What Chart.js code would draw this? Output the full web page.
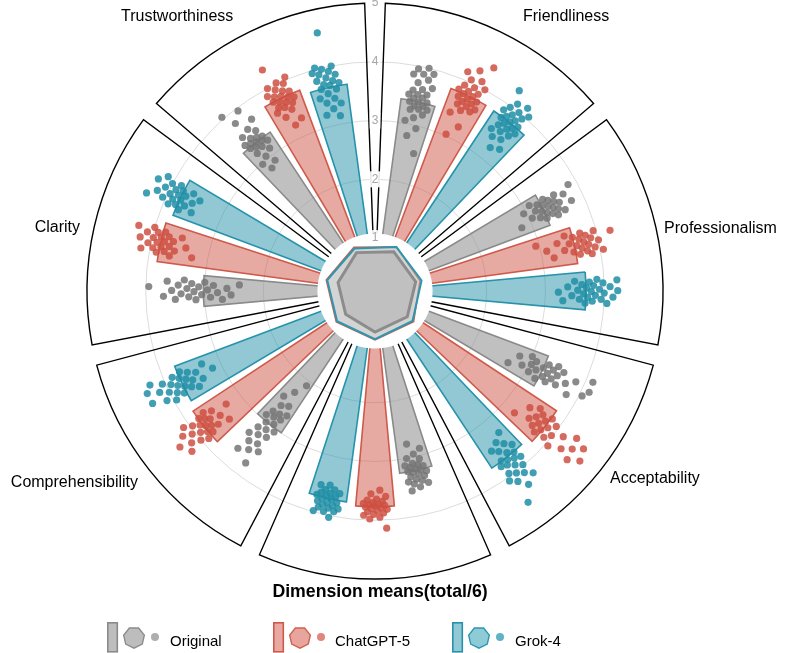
<!DOCTYPE html>
<html>
<head>
<meta charset="utf-8">
<script src="https://cdn.jsdelivr.net/npm/chart.js@4.4.1/dist/chart.umd.min.js"></script>
<style>
  html, body { margin:0; padding:0; background:#fff; width:787px; height:653px; overflow:hidden; position:relative; font-family:"Liberation Sans", Arial, sans-serif; }
  #wrap { position:absolute; left:0; top:-5px; width:787px; height:660px; }
  .lab { position:absolute; font-size:16px; line-height:16px; color:#000; white-space:nowrap; }
  .bold { font-weight:bold; font-size:17.7px; line-height:17.7px; }
  .leg { position:absolute; font-size:15px; line-height:15px; color:#000; white-space:nowrap; }
  #legsvg { position:absolute; left:0; top:600px; }
</style>
</head>
<body>
<div id="wrap"><canvas id="c"></canvas></div>

<div class="lab" style="left:121px;top:7.7px;">Trustworthiness</div>
<div class="lab" style="left:523px;top:7.7px;">Friendliness</div>
<div class="lab" style="left:664px;top:219.7px;">Professionalism</div>
<div class="lab" style="right:707px;top:218.7px;">Clarity</div>
<div class="lab" style="left:610px;top:469.7px;">Acceptability</div>
<div class="lab" style="right:649px;top:473.7px;">Comprehensibility</div>
<div class="lab bold" style="left:272px;top:583.3px;width:216px;text-align:center;">Dimension means(total/6)</div>

<svg id="legsvg" width="787" height="53"></svg>
<div class="leg" style="left:170px;top:632.5px;">Original</div>
<div class="leg" style="left:335px;top:632.5px;">ChatGPT-5</div>
<div class="leg" style="left:515px;top:632.5px;">Grok-4</div>

<script>
// ---------------- DATA ----------------
const dimensions = ['Friendliness', 'Professionalism', 'Acceptability', 'Dimension means(total/6)', 'Comprehensibility', 'Clarity', 'Trustworthiness'];
const seriesNames = ['Original', 'ChatGPT-5', 'Grok-4'];
const tickValues = [1, 2, 3, 4, 5];

// bar heights (mean score per dimension)
const originalMeans = [3.40, 3.28, 3.25, 3.23, 2.99, 3.02, 3.34];
const chatgptMeans  = [3.78, 3.58, 3.80, 3.77, 3.81, 3.84, 3.75];
const grokMeans     = [3.77, 3.69, 3.71, 3.72, 3.74, 3.77, 3.65];

// individual scores (points), one list per dimension
const originalScores = [
  [4.00,3.95,3.92,3.88,3.85,3.80,3.72,3.68,3.62,3.58,3.55,3.52,3.50,3.48,3.45,3.42,3.40,3.38,3.35,3.32,3.30,3.28,3.25,3.20,3.12,3.05,2.95,2.80,2.53],
  [3.85,3.78,3.70,3.62,3.58,3.55,3.52,3.50,3.48,3.45,3.42,3.40,3.38,3.35,3.32,3.30,3.28,3.25,3.22,3.18,3.15,3.10,3.05,2.95,2.82],
  [4.13,4.12,4.05,3.85,3.80,3.70,3.60,3.56,3.52,3.48,3.45,3.42,3.38,3.35,3.32,3.30,3.25,3.20,3.15,3.10,3.05,3.04,3.00,2.90,2.80,2.67],
  [3.56,3.52,3.48,3.45,3.42,3.40,3.38,3.35,3.32,3.30,3.28,3.26,3.24,3.22,3.20,3.18,3.16,3.14,3.12,3.10,3.05,3.00,2.95,2.88,2.76],
  [3.76,3.65,3.55,3.48,3.43,3.38,3.32,3.25,3.20,3.15,3.10,3.05,3.00,2.95,2.90,2.85,2.82,2.78,2.75,2.70,2.62,2.55,2.47,2.30,2.09],
  [3.95,3.70,3.64,3.56,3.50,3.45,3.40,3.35,3.30,3.27,3.22,3.18,3.15,3.10,3.05,3.00,2.95,2.90,2.85,2.78,2.70,2.62,2.55,2.41],
  [4.04,3.95,3.81,3.70,3.60,3.55,3.50,3.45,3.42,3.40,3.38,3.36,3.34,3.32,3.30,3.28,3.25,3.22,3.18,3.12,3.05,2.98,2.90,2.83]
];
const chatgptScores = [
  [4.40,4.25,4.15,4.10,4.05,4.00,3.95,3.92,3.88,3.85,3.82,3.80,3.78,3.75,3.72,3.70,3.68,3.65,3.62,3.60,3.58,3.55,3.50,3.40,3.23,3.03],
  [4.23,4.05,4.00,3.95,3.92,3.88,3.85,3.82,3.80,3.78,3.75,3.72,3.70,3.68,3.65,3.62,3.58,3.55,3.50,3.45,3.40,3.30,3.20,3.10,2.94],
  [4.63,4.55,4.45,4.40,4.35,4.25,4.15,4.05,3.98,3.95,3.90,3.85,3.82,3.78,3.75,3.72,3.68,3.65,3.62,3.58,3.55,3.50,3.40,3.25],
  [4.14,3.98,3.95,3.92,3.90,3.88,3.86,3.84,3.82,3.80,3.79,3.78,3.76,3.75,3.74,3.73,3.72,3.70,3.68,3.66,3.64,3.60,3.55,3.49],
  [4.35,4.24,4.20,4.15,4.10,4.05,4.00,3.96,3.92,3.88,3.85,3.82,3.80,3.78,3.75,3.72,3.70,3.68,3.65,3.60,3.55,3.48,3.40,3.28],
  [4.27,4.20,4.15,4.10,4.05,4.00,3.98,3.95,3.92,3.90,3.88,3.85,3.82,3.80,3.78,3.75,3.72,3.68,3.65,3.63,3.58,3.50,3.40,3.27],
  [4.32,4.05,4.02,4.00,3.96,3.92,3.88,3.85,3.82,3.80,3.78,3.75,3.72,3.70,3.68,3.65,3.62,3.60,3.58,3.55,3.50,3.42,3.30,3.23]
];
const grokScores = [
  [4.30,4.15,4.10,4.05,4.00,3.98,3.95,3.90,3.88,3.85,3.82,3.80,3.78,3.75,3.72,3.70,3.68,3.65,3.62,3.58,3.55,3.50,3.45,3.40,3.31,3.23],
  [4.23,4.22,4.15,4.10,4.05,4.00,3.98,3.95,3.92,3.88,3.85,3.82,3.80,3.78,3.75,3.72,3.70,3.68,3.65,3.62,3.58,3.55,3.50,3.45,3.38,3.30,3.22],
  [4.54,4.30,4.20,4.15,4.10,4.06,4.02,3.98,3.95,3.90,3.85,3.82,3.80,3.78,3.75,3.72,3.70,3.65,3.60,3.55,3.50,3.47,3.40,3.30],
  [4.03,3.98,3.95,3.92,3.90,3.88,3.86,3.84,3.82,3.80,3.78,3.76,3.74,3.72,3.70,3.68,3.66,3.64,3.62,3.60,3.58,3.55,3.52,3.49],
  [4.35,4.34,4.25,4.15,4.10,4.05,4.00,3.95,3.92,3.88,3.85,3.82,3.78,3.75,3.72,3.70,3.65,3.62,3.58,3.55,3.50,3.45,3.38,3.30,3.16],
  [4.33,4.25,4.18,4.12,4.08,4.05,4.00,3.96,3.92,3.90,3.88,3.85,3.82,3.80,3.78,3.75,3.72,3.70,3.65,3.60,3.55,3.50,3.45],
  [4.60,4.03,4.00,3.98,3.95,3.92,3.90,3.85,3.82,3.80,3.75,3.72,3.70,3.68,3.65,3.60,3.55,3.50,3.45,3.40,3.35,3.28,3.20,3.14]
];

// ---------------- STYLE / LAYOUT ----------------
const barFill   = ['rgba(150,150,150,0.6)', 'rgba(208,86,72,0.5)', 'rgba(37,146,170,0.5)'];
const barStroke = ['#8a8a8a', '#cf5a4b', '#2693ab'];
const dotFill   = ['rgba(118,118,118,0.85)', 'rgba(206,80,66,0.85)', 'rgba(32,142,166,0.85)'];
const heptStroke = ['#8c8c8c', '#d0604f', '#2a98b0'];

const SECTOR = 360 / dimensions.length;       // degrees per dimension
const BAR_W = 0.2, GAP = 0.05;                 // in sector units
const MARGIN = (1 - 3 * BAR_W - 2 * GAP) / 2;
const slotAngles = [MARGIN, BAR_W, GAP, BAR_W, GAP, BAR_W, MARGIN].map(u => u * SECTOR);
const slotSeries = [-1, 0, -1, 1, -1, 2, -1];
const allMeans = [originalMeans, chatgptMeans, grokMeans];
const allScores = [originalScores, chatgptScores, grokScores];

const labels = [], values = [];
dimensions.forEach((d, i) => {
  slotSeries.forEach(s => {
    labels.push(s < 0 ? '' : d + ' - ' + seriesNames[s]);
    values.push(s < 0 ? 0 : allMeans[s][i]);
  });
});

Chart.defaults.font.family = '"Liberation Sans", Arial, sans-serif';

const toRad = deg => (deg - 90) * Math.PI / 180;

const overlay = {
  id: 'overlay',
  beforeDatasetsDraw(chart) {
    const sc = chart.scales.r, ctx = chart.ctx;
    const cx = sc.xCenter, cy = sc.yCenter, R = sc.getDistanceFromCenterForValue(5);
    ctx.save();
    ctx.strokeStyle = '#000';
    ctx.lineWidth = 1.4;
    ctx.lineJoin = 'miter';
    for (let d = 0; d < dimensions.length; d++) {
      const a0 = toRad(d * SECTOR + 0.04 * SECTOR), a1 = toRad((d + 1) * SECTOR - 0.04 * SECTOR);
      ctx.beginPath();
      ctx.moveTo(cx, cy);
      ctx.lineTo(cx + R * Math.cos(a0), cy + R * Math.sin(a0));
      ctx.arc(cx, cy, R, a0, a1);
      ctx.closePath();
      ctx.stroke();
    }
    ctx.restore();
  },
  afterDatasetsDraw(chart) {
    const sc = chart.scales.r, ctx = chart.ctx;
    const cx = sc.xCenter, cy = sc.yCenter;
    ctx.save();
    // jittered points
    for (let s = 0; s < 3; s++) {
      ctx.fillStyle = dotFill[s];
      for (let d = 0; d < dimensions.length; d++) {
        const centre = d * SECTOR + (0.5 + (s - 1) * 0.25) * SECTOR;
        allScores[s][d].forEach((v, i) => {
          const j = (((i + 1) * 0.6180339887 + s * 0.23 + d * 0.41) % 1) - 0.5;
          const a = toRad(centre + j * 0.13 * SECTOR);
          const r = sc.getDistanceFromCenterForValue(v);
          ctx.beginPath();
          ctx.arc(cx + r * Math.cos(a), cy + r * Math.sin(a), 3.6, 0, Math.PI * 2);
          ctx.fill();
        });
      }
    }
    // central hole
    ctx.fillStyle = '#fff';
    ctx.beginPath();
    ctx.arc(cx, cy, sc.getDistanceFromCenterForValue(1.08), 0, Math.PI * 2);
    ctx.fill();
    // heptagons of the means
    const hr = v => 0.25 * sc.getDistanceFromCenterForValue(v) - 5;
    const heptFill = ['rgba(185,185,185,0.75)', 'rgba(190,190,190,0.42)', 'rgba(190,190,190,0.42)'];
    const widths = [3, 1.6, 2];
    [1, 2, 0].forEach(s => {
      ctx.beginPath();
      allMeans[s].forEach((v, d) => {
        const a = toRad(d * SECTOR + SECTOR / 2), r = hr(v);
        const x = cx + r * Math.cos(a), y = cy + r * Math.sin(a);
        if (d === 0) ctx.moveTo(x, y); else ctx.lineTo(x, y);
      });
      ctx.closePath();
      ctx.fillStyle = heptFill[s];
      ctx.fill();
      ctx.strokeStyle = heptStroke[s];
      ctx.lineWidth = widths[s];
      ctx.lineJoin = 'miter';
      ctx.stroke();
    });
    ctx.restore();
  }
};

new Chart(document.getElementById('c'), {
  type: 'polarArea',
  data: {
    labels: labels,
    datasets: [{
      data: values,
      angle: ctx => slotAngles[ctx.dataIndex % 7],
      backgroundColor: ctx => { const s = slotSeries[ctx.dataIndex % 7]; return s < 0 ? 'rgba(0,0,0,0)' : barFill[s]; },
      borderColor: ctx => { const s = slotSeries[ctx.dataIndex % 7]; return s < 0 ? 'rgba(0,0,0,0)' : barStroke[s]; },
      borderWidth: 1.6,
      borderJoinStyle: 'miter'
    }]
  },
  options: {
    responsive: true,
    maintainAspectRatio: false,
    animation: false,
    events: [],
    layout: { padding: { left: 0, right: 36, top: 0, bottom: 67.6 } },
    plugins: { legend: { display: false }, tooltip: { enabled: false } },
    scales: {
      r: {
        min: 0.1,
        max: 5,
        startAngle: 0,
        afterBuildTicks: s => { s.ticks = [0.1].concat(tickValues).map(v => ({ value: v })); },
        ticks: {
          z: 1,
          color: '#a6a6a6',
          font: { size: 12 },
          callback: v => (v === 0.1 ? '' : String(v)),
          showLabelBackdrop: true,
          backdropColor: 'rgba(255,255,255,0.9)',
          backdropPadding: 2
        },
        grid: {
          circular: true,
          color: ctx => (ctx.tick && ctx.tick.value === 5 ? 'rgba(0,0,0,0)' : '#dcdcdc'),
          lineWidth: 1
        },
        angleLines: { display: false },
        pointLabels: { display: false }
      }
    }
  },
  plugins: [overlay]
});

// ---------------- LEGEND ICONS ----------------
(function () {
  const svg = document.getElementById('legsvg');
  const NS = 'http://www.w3.org/2000/svg';
  const legFill = ['#bdbdbd', '#e8a9a2', '#92c9d5'];
  const legHeptFill = ['#bdbdbd', '#e8a59e', '#8ecbd6'];
  const legDot = ['#9a9a9a', '#d8695c', '#3a9fb5'];
  const xs = [107, 273, 452];
  xs.forEach((x0, s) => {
    const rect = document.createElementNS(NS, 'rect');
    rect.setAttribute('x', x0 + 0.8); rect.setAttribute('y', 22.8);
    rect.setAttribute('width', 9.5); rect.setAttribute('height', 29);
    rect.setAttribute('fill', legFill[s]); rect.setAttribute('stroke', barStroke[s]); rect.setAttribute('stroke-width', 1.6);
    svg.appendChild(rect);
    const hc = x0 + 27, hy = 37.5, hrad = 10.6;
    let pts = [];
    for (let k = 0; k < 7; k++) {
      const a = toRad(SECTOR / 2 + k * SECTOR);
      pts.push((hc + hrad * Math.cos(a)).toFixed(2) + ',' + (hy + hrad * Math.sin(a)).toFixed(2));
    }
    const poly = document.createElementNS(NS, 'polygon');
    poly.setAttribute('points', pts.join(' '));
    poly.setAttribute('fill', legHeptFill[s]); poly.setAttribute('stroke', heptStroke[s]); poly.setAttribute('stroke-width', 1.4);
    svg.appendChild(poly);
    const dot = document.createElementNS(NS, 'circle');
    dot.setAttribute('cx', x0 + 48); dot.setAttribute('cy', 37);
    dot.setAttribute('r', 4); dot.setAttribute('fill', legDot[s]); dot.setAttribute('fill-opacity', 0.8);
    svg.appendChild(dot);
  });
})();
</script>
</body>
</html>
